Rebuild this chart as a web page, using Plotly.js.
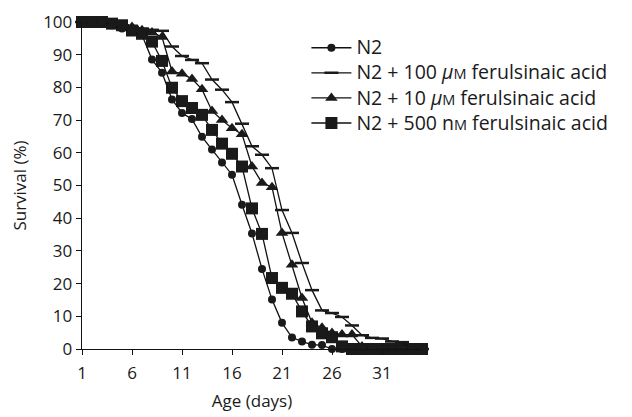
<!DOCTYPE html>
<html>
<head>
<meta charset="utf-8">
<script src="https://cdn.plot.ly/plotly-3.0.1.min.js"></script>
<style>html,body{margin:0;padding:0;background:#fff;}#chart{width:632px;height:417px;}</style>
</head>
<body>
<div id="chart"></div>
<script>
const days = [1,2,3,4,5,6,7,8,9,10,11,12,13,14,15,16,17,18,19,20,21,22,23,24,25,26,27,28,29,30,31,32,33,34,35];
const n2 = [100,100,100,99,98,97,96,88.5,84.5,76.3,72.2,70.3,64.9,61.0,57.0,53.3,44.1,35.3,24.5,15.1,8.0,3.5,2.3,1.3,1.2,0,0,0,0,0,0,0,0,0,0];
const um100 = [100,100,100,99.5,99,98.5,98,97.6,97.3,92.5,89.6,88.4,87.4,82.4,79.3,75.5,68.9,62.0,59.4,55.3,42.5,35.5,26.3,18.0,11.8,11.0,9.8,7.2,4.2,3.4,3.2,2.3,2.1,0,0];
const um10 = [100,100,100,99.5,99,98.5,97.5,96.8,95.4,84.9,84.2,82.6,79.4,72.8,70.0,67.5,65.7,55.8,50.8,49.5,35.5,25.8,15.6,8.0,6.5,4.9,4.4,4.4,0.8,0,0,0,0,0,0];
const nm500 = [100,100,100,99.5,99,97.4,96.4,94.0,88.1,79.9,75.8,73.7,71.6,67.0,62.8,59.7,55.8,43.0,35.2,21.7,18.7,16.9,11.5,6.9,4.8,3.6,0.8,0,0,0,0,0,0,0,0];
const xTicks = [1,6,11,16,21,26,31];
const yTicks = [0,10,20,30,40,50,60,70,80,90,100];
const names = [
  'N2',
  'N2 + 100 <i>μ</i><span style="font-size:14.5px">M</span> ferulsinaic acid',
  'N2 + 10 <i>μ</i><span style="font-size:14.5px">M</span> ferulsinaic acid',
  'N2 + 500 n<span style="font-size:14.5px">M</span> ferulsinaic acid'
];
const legendName = s => '<span style="font-size:19.5px">' + s + '</span>';

const lineStyle = {color:'#111', width:1.3};
const traces = [
  {x:days, y:nm500, name:legendName(names[3]), mode:'lines+markers', line:lineStyle,
   marker:{symbol:'square', size:12, color:'#1a1a1a'}, cliponaxis:false},
  {x:days, y:um10, name:legendName(names[2]), mode:'lines+markers', line:lineStyle,
   marker:{symbol:'triangle-up', size:11, color:'#1a1a1a'}, cliponaxis:false},
  {x:days, y:um100, name:legendName(names[1]), mode:'lines+markers', line:lineStyle,
   marker:{symbol:'line-ew', size:10, color:'#1a1a1a', line:{color:'#1a1a1a', width:2.5}}, cliponaxis:false},
  {x:days, y:n2, name:legendName(names[0]), mode:'lines+markers', line:lineStyle,
   marker:{symbol:'circle', size:8, color:'#1a1a1a'}, cliponaxis:false}
];

const fam = '"Open Sans", "Noto Sans", sans-serif';
const layout = {
  width:632, height:417,
  margin:{l:82, r:210, t:22, b:68},
  paper_bgcolor:'#fff', plot_bgcolor:'#fff',
  font:{family:fam, color:'#1a1a1a', size:17},
  showlegend:true,
  legend:{x:0.66, y:0.975, xanchor:'left', yanchor:'top', traceorder:'reversed', itemwidth:40,
          font:{family:fam, size:17, color:'#1a1a1a'}, bgcolor:'rgba(0,0,0,0)', tracegroupgap:0},
  xaxis:{range:[1,35], tickvals:xTicks, ticktext:xTicks.map(String), ticks:'outside', ticklen:5,
         tickcolor:'#111', showline:true, linecolor:'#111', linewidth:1.3, showgrid:false, zeroline:false,
         ticklabelstandoff:3,
         tickfont:{size:17}, title:{text:'Age (days)', font:{size:17}, standoff:12}},
  yaxis:{range:[0,100], tickvals:yTicks, ticks:'outside', ticklen:5,
         tickcolor:'#111', showline:true, linecolor:'#111', linewidth:1.3, showgrid:false, zeroline:false,
         tickfont:{size:17}, title:{text:'Survival (%)', font:{size:17}, standoff:12}}
};
Plotly.newPlot('chart', traces, layout, {displayModeBar:false, staticPlot:true});
</script>
</body>
</html>
